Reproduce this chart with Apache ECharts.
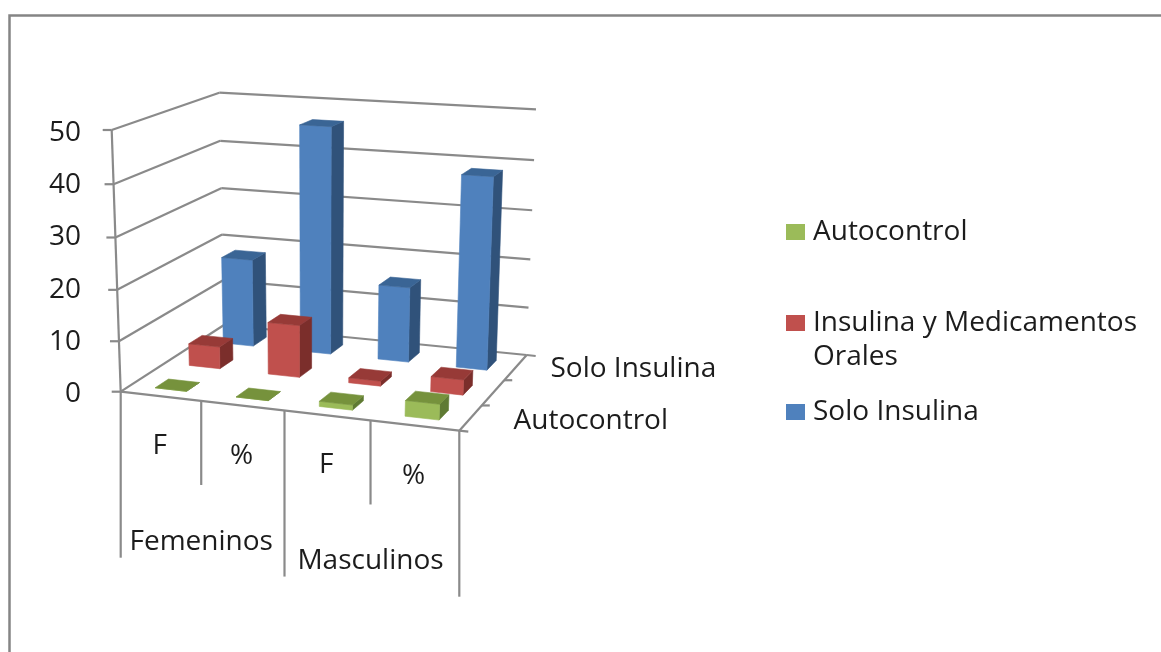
<!DOCTYPE html>
<html><head><meta charset="utf-8">
<style>html,body{margin:0;padding:0;background:#fff}#c{width:1161px;height:652px}</style>
<script src="https://cdn.jsdelivr.net/npm/echarts@6/dist/echarts.min.js"></script>
</head><body><div id="c"></div>
<script>
const categories = ['F', '%', 'F', '%'];
const groups = ['Femeninos', 'Masculinos'];
const depthNames = ['Autocontrol', 'Insulina y Medicamentos Orales', 'Solo Insulina'];
const depthLabels = ['Autocontrol', '', 'Solo Insulina'];
const yTicks = [0, 10, 20, 30, 40, 50];
const autocontrol = [0, 0, 1, 3];
const insulinaMedicamentos = [4.5, 10.5, 1, 3];
const soloInsulina = [18.3, 46.5, 15.4, 38.7];

const FONT = '"Open Sans", sans-serif', FS = 28, TXT = '#1c1c1c', LINE = '#8a8a8a';
const GL = 112, GT = 133, GW = 340, GH = 261;
const C = {
  flb:[120.7,391.7], frb:[459.3,430.7], blb:[224,325], brb:[526.7,355],
  flt:[111.7,130], frt:[470,151], blt:[219.3,92.7], brt:[536,109.3]
};
const lerp=(a,b,t)=>[a[0]+(b[0]-a[0])*t,a[1]+(b[1]-a[1])*t];
function P(u0,v,w0){
  const u=u0-0.065*u0*(1-u0)*(1-v); // perspective foreshortening
  const w=w0-0.045*w0*(1-w0);
  const bot=lerp(lerp(C.flb,C.frb,u),lerp(C.blb,C.brb,u),v);
  const top=lerp(lerp(C.flt,C.frt,u),lerp(C.blt,C.brt,u),v);
  return lerp(bot,top,w);
}
const toU=px=>(px-GL)/GW, toW=py=>(GT+GH-py)/GH;
const palette=[
  {front:'#9bbb59',side:'#5f7a33',top:'#76923c'},
  {front:'#c0504d',side:'#7b2e2b',top:'#973a37'},
  {front:'#4f81bd',side:'#30527a',top:'#3a6595'}
];
function barRender(depth){
  return function(params,api){
    const c=api.coord([api.value(0),api.value(1)]);
    const bw=api.size([1,0])[0]*0.39;
    const u0=toU(c[0]-bw/2),u1=toU(c[0]+bw/2),w=toW(c[1]);
    const v0=(depth+0.3)/3,v1=(depth+0.69)/3;
    const col=palette[depth];
    const face=(pts,fill)=>({type:'polygon',shape:{points:pts},style:{fill,stroke:fill,lineWidth:0.6}});
    return {type:'group',children:[
      face([P(u1,v0,0),P(u1,v1,0),P(u1,v1,w),P(u1,v0,w)],col.side),
      face([P(u0,v0,0),P(u1,v0,0),P(u1,v0,w),P(u0,v0,w)],col.front),
      face([P(u0,v0,w),P(u1,v0,w),P(u1,v1,w),P(u0,v1,w)],col.top)
    ]};
  };
}
function seg(a,b){return {type:'line',shape:{x1:a[0],y1:a[1],x2:b[0],y2:b[1]},style:{stroke:LINE,lineWidth:2.2}};}
function txt(s,x,y,align){return {type:'text',x,y,style:{text:s,fill:TXT,font:FS+'px '+FONT,align:align||'center',verticalAlign:'middle'}};}
function frameRender(params,api){
  const ch=[];
  yTicks.forEach(t=>{
    const w=toW(api.coord([0,t])[1]);
    const a=P(0,0,w),b=P(0,1,w),d=P(1,1,w);
    ch.push(seg([a[0]-9,a[1]],a),seg(a,b),seg(b,d));
    if(t===0) ch.push(seg(d,[d[0]+9,d[1]+1]));
  });
  ch.push(seg(P(0,0,0),P(0,0,1)));
  ch.push(seg(P(0,0,0),P(1,0,0)));
  ch.push(seg(P(1,0,0),P(1,1,0)));
  const fr=P(1,0,0); ch.push(seg(fr,[fr[0]+9,fr[1]+1]));
  [1/3,2/3].forEach(v=>{const p=P(1,v,0);ch.push(seg(p,[p[0]+8,p[1]]));});
  // multi-level category separators
  const bw=api.size([1,0])[0];
  for(let i=0;i<=categories.length;i++){
    const px=api.coord([0,0])[0]-bw/2+i*bw;
    const p=P(toU(px),0,0);
    ch.push(seg(p,[p[0],p[1]+(i%2===0?166:84)]));
  }
  categories.forEach((c,i)=>{
    const p=P(toU(api.coord([i,0])[0]),0,0);
    ch.push(txt(c,p[0]-1,p[1]+50));
  });
  groups.forEach((g,i)=>{
    const p=P(toU(api.coord([i*2,0])[0]+bw/2),0,0);
    ch.push(txt(g,p[0],p[1]+141));
  });
  depthLabels.forEach((d,i)=>{
    if(!d) return;
    const p=P(1,(i+0.5)/3,0);
    ch.push(txt(d,p[0]+(i===0?43:35),p[1]+(i===0?3:1),'left'));
  });
  ch.push(txt('Orales',813,357,'left'));
  return {type:'group',children:ch};
}
const legendBase={orient:'vertical',left:786,itemWidth:19,itemHeight:16,itemGap:8,padding:0,
  icon:'rect',textStyle:{fontFamily:FONT,fontSize:FS,color:TXT,padding:[0,0,0,3]},selectedMode:false};
const chart=echarts.init(document.getElementById('c'),null,{renderer:'canvas'});
chart.setOption({
  animation:false,
  backgroundColor:'#fff',
  graphic:[{type:'polyline',shape:{points:[[9.5,652],[9.5,15.5],[1161,15.5]]},style:{stroke:'#858585',fill:null,lineWidth:2.5}}],
  grid:{left:GL,top:GT,width:GW,height:GH},
  xAxis:{type:'category',data:categories,show:false},
  yAxis:{type:'value',min:0,max:50,interval:10,
    axisLine:{show:false},axisTick:{show:false},splitLine:{show:false},
    axisLabel:{fontFamily:FONT,fontSize:FS,color:TXT,margin:31}},
  legend:[
    Object.assign({},legendBase,{top:218,data:[depthNames[0]]}),
    Object.assign({},legendBase,{top:309,data:[depthNames[1]],formatter:()=>'Insulina y Medicamentos'}),
    Object.assign({},legendBase,{top:398,data:[depthNames[2]]})
  ],
  series:[
    {type:'custom',silent:true,z:1,renderItem:frameRender,data:[[0,0]],encode:{x:0,y:1}},
    {type:'custom',name:depthNames[2],silent:true,z:2,itemStyle:{color:palette[2].front},renderItem:barRender(2),data:soloInsulina.map((v,i)=>[i,v]),encode:{x:0,y:1}},
    {type:'custom',name:depthNames[1],silent:true,z:3,itemStyle:{color:palette[1].front},renderItem:barRender(1),data:insulinaMedicamentos.map((v,i)=>[i,v]),encode:{x:0,y:1}},
    {type:'custom',name:depthNames[0],silent:true,z:4,itemStyle:{color:palette[0].front},renderItem:barRender(0),data:autocontrol.map((v,i)=>[i,v]),encode:{x:0,y:1}}
  ]
});
</script></body></html>
